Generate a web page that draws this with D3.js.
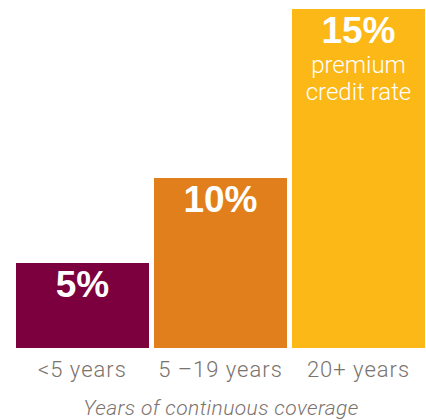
<!DOCTYPE html>
<html lang="en">
<head>
    <meta charset="UTF-8">
    <title>Premium credit rate by years of coverage</title>
    <script src="https://d3js.org/d3.v7.min.js"></script>
    <style>
        body { margin: 0; background: #fff; }
        .tick text { font-family: Roboto, sans-serif; font-weight: 300; letter-spacing: 1px; }
    </style>
</head>
<body>
<svg width="426" height="420"></svg>
<script>
    var categories = ["<5 years", "5 \u201319 years", "20+ years"];
    var rates = [5, 10, 15];
    var rateLabels = ["5%", "10%", "15%"];
    var subLabel = ["premium", "credit rate"];
    var colors = ["#7b003d", "#e17f1c", "#fbb817"];
    var axisTitle = "Years of continuous coverage";

    var svg = d3.select("svg"),
        baseline = 348;

    var x = d3.scaleBand()
              .domain(categories)
              .range([16, 425])
              .paddingInner(5 / 138)
              .paddingOuter(0);

    // the chart stretches the top bar, so a piecewise scale
    var y = d3.scaleLinear()
              .domain([0, 10, 15])
              .range([baseline, 178, 9]);

    var bars = svg.append("g");

    bars.selectAll("rect")
        .data(rates)
        .enter().append("rect")
        .attr("x", (d, i) => x(categories[i]))
        .attr("y", (d) => y(d))
        .attr("width", x.bandwidth())
        .attr("height", (d) => baseline - y(d))
        .attr("fill", (d, i) => colors[i]);

    bars.selectAll("text.pct")
        .data(rates)
        .enter().append("text")
        .attr("class", "pct")
        .attr("x", (d, i) => x(categories[i]) + x.bandwidth() / 2)
        .attr("y", (d) => y(d) + 34)
        .attr("text-anchor", "middle")
        .attr("fill", "#fff")
        .style("font-family", "'Liberation Sans', Arial, sans-serif")
        .style("font-weight", "bold")
        .style("font-size", "37px")
        .text((d, i) => rateLabels[i]);

    bars.selectAll("text.sub")
        .data(subLabel)
        .enter().append("text")
        .attr("class", "sub")
        .attr("x", x(categories[2]) + x.bandwidth() / 2)
        .attr("y", (d, i) => y(rates[2]) + 64 + i * 27)
        .attr("text-anchor", "middle")
        .attr("fill", "#fff")
        .style("font-family", "Roboto, sans-serif")
        .style("font-weight", 300)
        .style("font-size", "24px")
        .text((d) => d);

    var axis = svg.append("g")
        .attr("transform", "translate(0," + baseline + ")")
        .call(d3.axisBottom(x).tickSize(0).tickPadding(13));
    axis.select(".domain").remove();
    axis.selectAll("text")
        .attr("fill", "#7b736e")
        .style("font-size", "22px");

    svg.append("text")
        .attr("x", 221)
        .attr("y", 415)
        .attr("text-anchor", "middle")
        .attr("fill", "#7b736e")
        .style("font-family", "Roboto, sans-serif")
        .style("font-weight", 300)
        .style("font-style", "italic")
        .style("font-size", "21px")
        .style("letter-spacing", "0.4px")
        .text(axisTitle);
</script>
</body>
</html>
